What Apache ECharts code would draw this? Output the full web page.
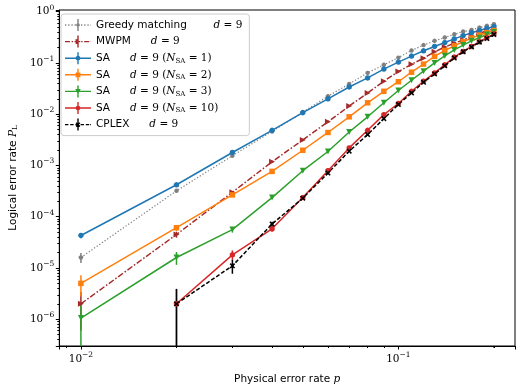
<!DOCTYPE html>
<html>
<head>
<meta charset="utf-8">
<script src="https://cdn.jsdelivr.net/npm/echarts@6/dist/echarts.min.js"></script>
<style>
  html, body { margin: 0; padding: 0; background: #fff; }
  #chart { width: 523px; height: 390px; }
</style>
</head>
<body>
<div id="chart"></div>
<script>
// physical error rate p
var pValues = [0.01, 0.02, 0.03, 0.04, 0.05, 0.06, 0.07, 0.08, 0.09, 0.10,
               0.11, 0.12, 0.13, 0.14, 0.15, 0.16, 0.17, 0.18, 0.19, 0.20];

// logical error rates (null = zero, not drawn on log axis)
var greedy = [1.6e-5, 3.2e-4, 1.55e-3, 4.6e-3, 1.1e-2, 2.24e-2, 3.9e-2, 6.4e-2, 9.2e-2, 0.127,
              0.175, 0.223, 0.27, 0.313, 0.363, 0.41, 0.44, 0.49, 0.53, 0.57];
var mwpm = [2.0e-6, 4.5e-5, 3.0e-4, 1.18e-3, 3.15e-3, 7.1e-3, 1.44e-2, 2.6e-2, 4.4e-2, 6.8e-2,
            0.094, 0.124, 0.165, 0.204, 0.243, 0.282, 0.327, 0.38, 0.42, 0.46];
var sa1 = [4.3e-5, 4.2e-4, 1.79e-3, 4.85e-3, 1.07e-2, 2.0e-2, 3.4e-2, 5.1e-2, 7.6e-2, 0.104,
           0.136, 0.173, 0.21, 0.25, 0.295, 0.342, 0.39, 0.43, 0.475, 0.51];
var sa2 = [5.0e-6, 6.1e-5, 2.66e-4, 7.66e-4, 1.98e-3, 4.4e-3, 8.9e-3, 1.67e-2, 2.8e-2, 4.3e-2,
           6.6e-2, 0.095, 0.134, 0.175, 0.216, 0.26, 0.305, 0.35, 0.39, 0.43];
var sa3 = [1.05e-6, 1.6e-5, 5.6e-5, 2.36e-4, 7.9e-4, 1.87e-3, 4.5e-3, 8.9e-3, 1.67e-2, 2.9e-2,
           4.6e-2, 6.9e-2, 0.10, 0.138, 0.18, 0.223, 0.27, 0.31, 0.36, 0.40];
var sa10 = [null, 2.0e-6, 1.8e-5, 5.8e-5, 2.36e-4, 7.9e-4, 2.2e-3, 4.85e-3, 9.8e-3, 1.62e-2,
            2.8e-2, 4.4e-2, 6.4e-2, 0.092, 0.13, 0.168, 0.21, 0.26, 0.31, 0.37];
var cplex = [null, 2.0e-6, 1.1e-5, 7.2e-5, 2.3e-4, 7.1e-4, 1.9e-3, 4.0e-3, 8.2e-3, 1.55e-2,
             2.6e-2, 4.2e-2, 6.1e-2, 0.088, 0.125, 0.165, 0.205, 0.255, 0.30, 0.36];

// error bar half-widths (only the low-p ones are visible)
var greedyErr = [3.5e-6, 1.8e-5, 4e-5, 0, 0, 0, 0, 0, 0, 0, 0, 0, 0, 0, 0, 0, 0, 0, 0, 0];
var mwpmErr = [1.4e-6, 6e-6, 1.5e-5, 0, 0, 0, 0, 0, 0, 0, 0, 0, 0, 0, 0, 0, 0, 0, 0, 0];
var sa1Err = [5e-6, 2e-5, 4e-5, 0, 0, 0, 0, 0, 0, 0, 0, 0, 0, 0, 0, 0, 0, 0, 0, 0];
var sa2Err = [2.2e-6, 8e-6, 1.6e-5, 0, 0, 0, 0, 0, 0, 0, 0, 0, 0, 0, 0, 0, 0, 0, 0, 0];
var sa3Err = [1.0e-6, 4.5e-6, 7e-6, 1.5e-5, 0, 0, 0, 0, 0, 0, 0, 0, 0, 0, 0, 0, 0, 0, 0, 0];
var sa10Err = [0, 1.9e-6, 4e-6, 7e-6, 1.5e-5, 0, 0, 0, 0, 0, 0, 0, 0, 0, 0, 0, 0, 0, 0, 0];
var cplexErr = [0, 1.9e-6, 3.3e-6, 8e-6, 1.5e-5, 0, 0, 0, 0, 0, 0, 0, 0, 0, 0, 0, 0, 0, 0, 0];

var xMin = 0.00855, xMax = 0.233;
var yMin = 3.0e-7, yMax = 1.08;

// ---- symbol paths (legend icons: line + errorbar + marker, in a 26x12 box) ----
function rect(x0, y0, x1, y1) {
  return 'M' + x0 + ',' + y0 + 'L' + x1 + ',' + y0 + 'L' + x1 + ',' + y1 + 'L' + x0 + ',' + y1 + 'Z';
}
function poly(pts) {
  return 'M' + pts.map(function (p) { return p[0].toFixed(2) + ',' + p[1].toFixed(2); }).join('L') + 'Z';
}
function hline(dash) {
  if (!dash) return rect(0, 5.3, 26, 6.7);
  var s = '', x = 0, i = 0;
  while (x < 26) {
    var len = dash[i % dash.length];
    if (i % 2 === 0) s += rect(x, 5.3, Math.min(26, x + len), 6.7);
    x += len; i++;
  }
  if (i % 2 === 0) s += rect(25.2, 5.3, 26, 6.7);
  return s;
}
function markerPath(kind, cx, cy, r) {
  var pts = [], k;
  if (kind === 'circle') {
    for (k = 0; k < 12; k++) {
      var a = k * Math.PI / 6;
      pts.push([cx + r * Math.cos(a), cy + r * Math.sin(a)]);
    }
  } else if (kind === 'square') {
    pts = [[cx - r, cy - r], [cx + r, cy - r], [cx + r, cy + r], [cx - r, cy + r]];
  } else if (kind === 'right') {
    pts = [[cx - r, cy - r * 1.15], [cx + r * 1.15, cy], [cx - r, cy + r * 1.15]];
  } else if (kind === 'down') {
    pts = [[cx - r * 1.15, cy - r], [cx + r * 1.15, cy - r], [cx, cy + r * 1.15]];
  } else if (kind === 'x') {
    var base = [[2, 0], [5, 3], [8, 0], [10, 2], [7, 5], [10, 8], [8, 10], [5, 7], [2, 10], [0, 8], [3, 5], [0, 2]];
    pts = base.map(function (p) { return [cx - r + p[0] * r / 5, cy - r + p[1] * r / 5]; });
  }
  return poly(pts);
}
function legendIcon(kind, dash, r) {
  return 'path://' + hline(dash) + rect(12.3, 0, 13.7, 12) + markerPath(kind, 13, 6, r);
}
function plotSymbol(kind) {
  return 'path://' + markerPath(kind, 5, 5, 5);
}

var seriesDefs = [
  {key: 'Greedy', data: greedy, err: greedyErr, color: '#808080', dash: [1.3, 1.9], iconDash: [1.3, 1.9], width: 1.2, marker: 'circle', size: 4.5, lr: 1.8},
  {key: 'MWPM', data: mwpm, err: mwpmErr, color: '#a52a2a', dash: [6, 2, 1.5, 2], iconDash: [5, 1.6, 1.4, 1.6], width: 1.5, marker: 'right', size: 6, lr: 2.4},
  {key: 'SA1', data: sa1, err: sa1Err, color: '#1f77b4', dash: 'solid', iconDash: null, width: 1.5, marker: 'circle', size: 5.5, lr: 2.4},
  {key: 'SA2', data: sa2, err: sa2Err, color: '#ff7f0e', dash: 'solid', iconDash: null, width: 1.5, marker: 'square', size: 5.5, lr: 2.4},
  {key: 'SA3', data: sa3, err: sa3Err, color: '#2ca02c', dash: 'solid', iconDash: null, width: 1.5, marker: 'down', size: 6, lr: 2.4},
  {key: 'SA10', data: sa10, err: sa10Err, color: '#d62728', dash: 'solid', iconDash: null, width: 1.5, marker: 'circle', size: 5.5, lr: 2.4},
  {key: 'CPLEX', data: cplex, err: cplexErr, color: '#000000', dash: [4, 2], iconDash: [3.4, 1.8], width: 1.5, marker: 'x', size: 5.5, lr: 2.4}
];

var legendText = {
  'Greedy': '{t|Greedy matching}        {m|d} {n|= 9}',
  'MWPM': '{t|MWPM}      {m|d} {n|= 9}',
  'SA1': '{t|SA}      {m|d} {n|= 9 (}{m|N}{s|SA}{n| = 1)}',
  'SA2': '{t|SA}      {m|d} {n|= 9 (}{m|N}{s|SA}{n| = 2)}',
  'SA3': '{t|SA}      {m|d} {n|= 9 (}{m|N}{s|SA}{n| = 3)}',
  'SA10': '{t|SA}      {m|d} {n|= 9 (}{m|N}{s|SA}{n| = 10)}',
  'CPLEX': '{t|CPLEX}      {m|d} {n|= 9}'
};

function powLabel(v) {
  var e = Math.round(Math.log10(v));
  return '{b|10}{e|' + (e < 0 ? '\u2212' + (-e) : e) + '}';
}

var tickRich = {
  b: {fontFamily: 'DejaVu Serif', fontSize: 10.5, color: '#000', lineHeight: 16},
  e: {fontFamily: 'DejaVu Serif', fontSize: 7.5, color: '#000', verticalAlign: 'top', lineHeight: 16}
};

var series = [];
seriesDefs.forEach(function (d) {
  series.push({
    name: d.key,
    type: 'line',
    data: pValues.map(function (p, i) { return [p, d.data[i]]; }),
    symbol: plotSymbol(d.marker),
    symbolSize: d.size,
    showAllSymbol: true,
    connectNulls: false,
    clip: true,
    z: 3,
    lineStyle: {color: d.color, width: d.width, type: d.dash},
    itemStyle: {color: d.color},
    emphasis: {disabled: true}
  });
  series.push({
    name: d.key,
    type: 'custom',
    z: 2,
    clip: true,
    data: pValues.map(function (p, i) { return [p, d.data[i], d.err[i]]; })
      .filter(function (r) { return r[1] != null && r[2] > 0; }),
    renderItem: function (params, api) {
      var x = api.value(0), y = api.value(1), e = api.value(2);
      var top = api.coord([x, y + e]);
      var bot = api.coord([x, Math.max(y - e, yMin)]);
      return {
        type: 'line',
        shape: {x1: top[0], y1: top[1], x2: bot[0], y2: bot[1]},
        style: {stroke: d.color, lineWidth: 1.5}
      };
    }
  });
});

var chart = echarts.init(document.getElementById('chart'));
chart.setOption({
  animation: false,
  backgroundColor: '#fff',
  grid: {left: 55, right: 8, top: 10, bottom: 42, show: true, borderColor: '#000', borderWidth: 1},
  legend: {
    data: seriesDefs.map(function (d) { return {name: d.key, icon: legendIcon(d.marker, d.iconDash, d.lr)}; }),
    orient: 'vertical',
    left: 61,
    top: 14,
    padding: [5, 7, 5, 4],
    itemWidth: 26,
    itemHeight: 12,
    itemGap: 4.6,
    backgroundColor: 'rgba(255,255,255,0.85)',
    borderColor: '#cccccc',
    borderWidth: 1,
    borderRadius: 3,
    formatter: function (name) { return legendText[name]; },
    textStyle: {
      color: '#000',
      rich: {
        t: {fontFamily: 'DejaVu Sans', fontSize: 10.5, color: '#000'},
        m: {fontFamily: 'DejaVu Serif', fontStyle: 'italic', fontSize: 10.5, color: '#000'},
        n: {fontFamily: 'DejaVu Serif', fontSize: 10.5, color: '#000'},
        s: {fontFamily: 'DejaVu Serif', fontSize: 7, color: '#000', verticalAlign: 'bottom', padding: [4, 0, 0, 0]}
      }
    }
  },
  xAxis: {
    type: 'log',
    logBase: 10,
    min: xMin,
    max: xMax,
    name: '{t|Physical error rate }{m|p}',
    nameLocation: 'middle',
    nameGap: 28,
    nameTextStyle: {
      rich: {
        t: {fontFamily: 'DejaVu Sans', fontSize: 10.5, color: '#000'},
        m: {fontFamily: 'DejaVu Serif', fontStyle: 'italic', fontSize: 10.5, color: '#000'}
      }
    },
    axisLine: {show: true, lineStyle: {color: '#000', width: 1}},
    axisTick: {show: true, inside: false, length: 3.5, lineStyle: {color: '#000'}},
    minorTick: {show: true, splitNumber: 9, length: 2, lineStyle: {color: '#000'}},
    splitLine: {show: false},
    axisLabel: {showMinLabel: false, showMaxLabel: false, formatter: powLabel, rich: tickRich, margin: 5}
  },
  yAxis: {
    type: 'log',
    logBase: 10,
    min: yMin,
    max: yMax,
    name: '{t|Logical error rate }{m|P}{s|L}',
    nameLocation: 'middle',
    nameRotate: 90,
    nameGap: 40,
    nameTextStyle: {
      rich: {
        t: {fontFamily: 'DejaVu Sans', fontSize: 10.5, color: '#000'},
        m: {fontFamily: 'DejaVu Serif', fontStyle: 'italic', fontSize: 10.5, color: '#000'},
        s: {fontFamily: 'DejaVu Serif', fontSize: 7, color: '#000', verticalAlign: 'bottom'}
      }
    },
    axisLine: {show: true, lineStyle: {color: '#000', width: 1}},
    axisTick: {show: true, inside: false, length: 3.5, lineStyle: {color: '#000'}},
    minorTick: {show: true, splitNumber: 9, length: 2, lineStyle: {color: '#000'}},
    splitLine: {show: false},
    axisLabel: {showMinLabel: false, showMaxLabel: false, formatter: powLabel, rich: tickRich, margin: 5}
  },
  series: series
});

// ECharts skips minor ticks in the last partial decade; add the 0.2 tick there
var tickX = chart.convertToPixel({xAxisIndex: 0}, 0.2);
var axisY = chart.convertToPixel({yAxisIndex: 0}, yMin);
chart.setOption({
  graphic: [{
    type: 'line',
    shape: {x1: tickX, y1: axisY, x2: tickX, y2: axisY + 2},
    style: {stroke: '#000', lineWidth: 1}
  }]
});
</script>
</body>
</html>
